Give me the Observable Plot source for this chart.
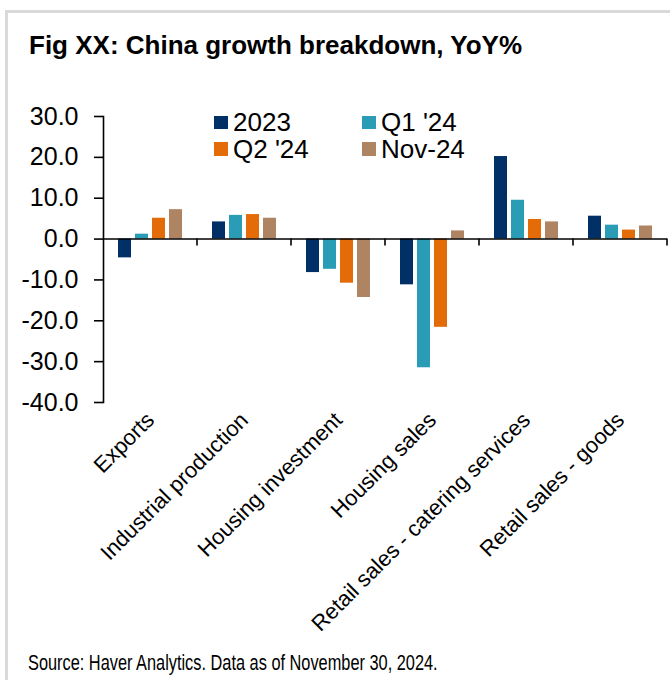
<!DOCTYPE html>
<html>
<head>
<meta charset="utf-8">
<script src="https://cdn.jsdelivr.net/npm/d3@7"></script>
<script src="https://cdn.jsdelivr.net/npm/@observablehq/plot@0.6"></script>
<style>
  html, body { margin: 0; padding: 0; background: #fff; }
  body { width: 670px; height: 680px; position: relative; overflow: hidden;
         font-family: "Liberation Sans", Arial, sans-serif; color: #000; }
  #frame { position: absolute; left: 5px; top: 10px; width: 720px; height: 720px;
           border-top: 3px solid #d9d9d9; border-left: 3px solid #d9d9d9; }
  #title { position: absolute; left: 29px; top: 32px; font-size: 26px; line-height: 26px;
           font-weight: bold; white-space: nowrap; }
  #chart { position: absolute; left: 0; top: 80px; }
  #legend { position: absolute; left: 214px; top: 109px; display: grid;
            grid-template-columns: 148px auto; grid-auto-rows: 26.7px; }
  .item { display: flex; align-items: center; font-size: 26px; line-height: 26.7px; white-space: nowrap; }
  .sw { width: 13.5px; height: 13.5px; margin-right: 5.5px; flex: none; }
  #caption { position: absolute; left: 28px; top: 653px; font-size: 21.5px; line-height: 21.5px;
             white-space: nowrap; transform: scaleX(0.76); transform-origin: 0 0; }
</style>
</head>
<body>
<div id="frame"></div>
<div id="title">Fig XX: China growth breakdown, YoY%</div>
<div id="chart"></div>
<div id="legend"></div>
<div id="caption">Source: Haver Analytics. Data as of November 30, 2024.</div>
<script>
const categories = ["Exports", "Industrial production", "Housing investment", "Housing sales", "Retail sales - catering services", "Retail sales - goods"];
const seriesNames = ["2023", "Q1 '24", "Q2 '24", "Nov-24"];
const values2023 = [-4.6, 4.2, -8.2, -11.2, 20.2, 5.6];
const valuesQ1 = [1.2, 5.8, -7.4, -31.5, 9.5, 3.4];
const valuesQ2 = [5.1, 6.0, -10.8, -21.6, 4.8, 2.2];
const valuesNov = [7.2, 5.1, -14.3, 2.0, 4.2, 3.2];
const seriesColors = ["#003066", "#2a9cb5", "#e36c09", "#ae8463"];
const yTicks = [30, 20, 10, 0, -10, -20, -30, -40];

const seriesValues = [values2023, valuesQ1, valuesQ2, valuesNov];
const rows = [];
categories.forEach((c, i) => {
  seriesNames.forEach((s, j) => rows.push({category: c, series: s, value: seriesValues[j][i]}));
});

const plot = Plot.plot({
  width: 670,
  height: 560,
  marginTop: 36,
  marginBottom: 238,
  marginLeft: 101,
  marginRight: 1,
  style: {fontFamily: "'Liberation Sans', Arial, sans-serif", color: "#000", background: "transparent", overflow: "visible"},
  fx: {domain: categories, padding: 0, label: null},
  x: {domain: seriesNames, paddingInner: 0.215, paddingOuter: 0.86, axis: null},
  y: {domain: [-40, 30], label: null},
  color: {domain: seriesNames, range: seriesColors},
  marks: [
    Plot.barY(rows, {fx: "category", x: "series", y: "value", fill: "series"}),
    Plot.ruleY([0], {stroke: "#000", strokeWidth: 1.6}),
    Plot.frame({anchor: "left", facetAnchor: "left", stroke: "#000", strokeWidth: 1.6}),
    Plot.axisY({ticks: yTicks, tickSize: 9, tickPadding: 16, fontSize: 25, strokeWidth: 1.6,
                tickFormat: d => d.toFixed(1), label: null, facetAnchor: "left"}),
    Plot.axisFx({anchor: "bottom", tickRotate: -45, tickSize: 0, tickPadding: 14, fontSize: 22, label: null})
  ]
});

// category boundary ticks on the zero line, placed with the plot's own scales
const fx = plot.scale("fx");
const ys = plot.scale("y");
const y0 = ys.apply(0);
const g = d3.select(plot).append("g").attr("stroke", "#000").attr("stroke-width", 1.6);
categories.forEach(c => {
  const xe = fx.apply(c) + fx.bandwidth;
  g.append("line").attr("x1", xe).attr("x2", xe).attr("y1", y0).attr("y2", y0 + 7);
});

document.getElementById("chart").appendChild(plot);

const legend = d3.select("#legend");
seriesNames.forEach((name, j) => {
  const it = legend.append("div").attr("class", "item");
  it.append("div").attr("class", "sw").style("background", seriesColors[j]);
  it.append("span").text(name);
});
</script>
</body>
</html>
